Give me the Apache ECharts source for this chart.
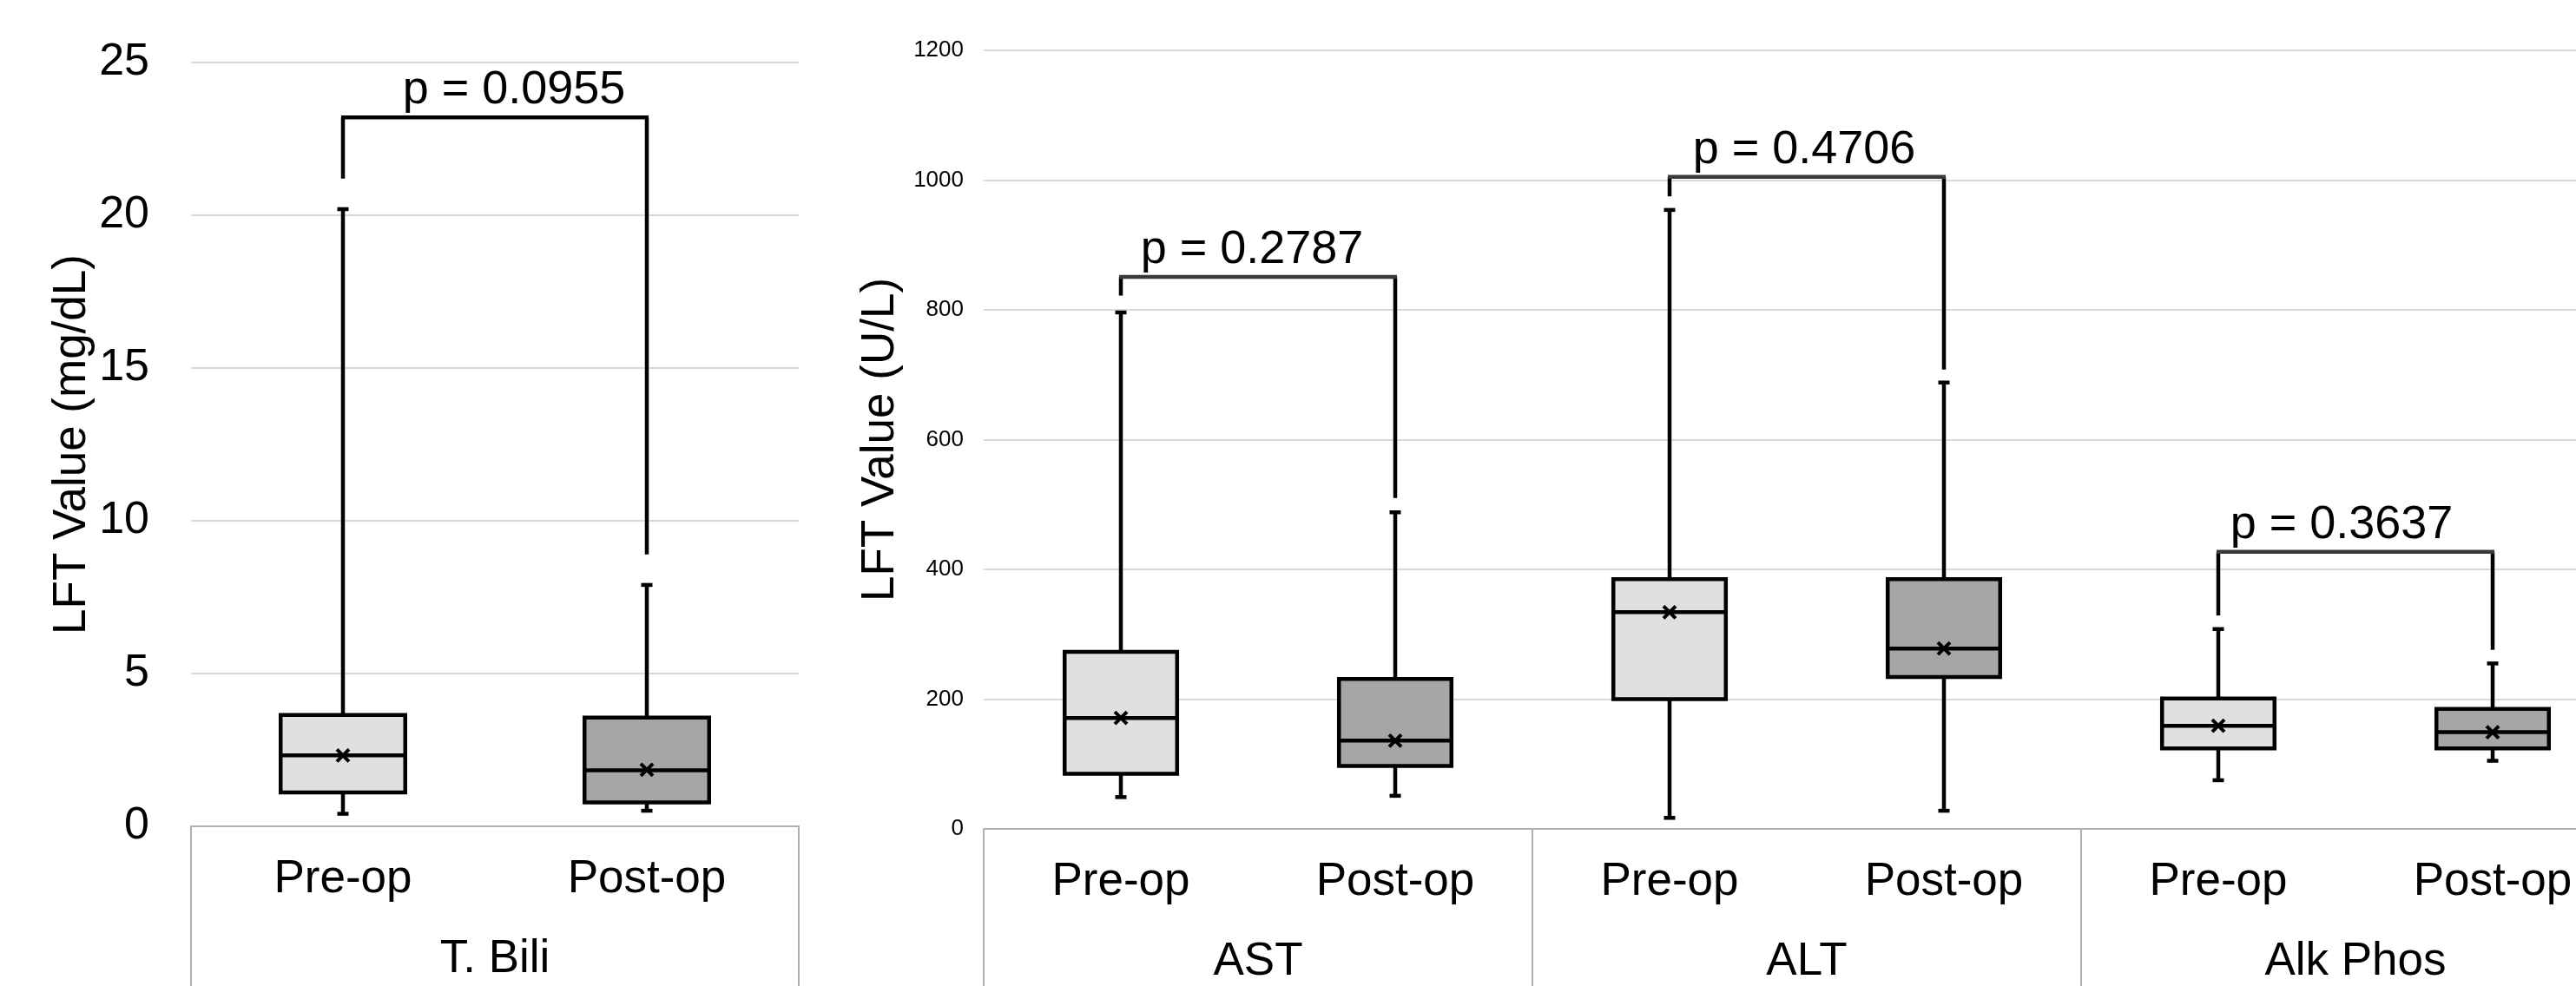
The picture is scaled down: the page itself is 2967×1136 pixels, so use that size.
<!DOCTYPE html>
<html>
<head>
<meta charset="utf-8">
<script src="https://cdn.jsdelivr.net/npm/echarts@6/dist/echarts.min.js"></script>
<style>
html, body { margin: 0; padding: 0; background: #fff; overflow: hidden; }
/* the last group runs past the right edge of the picture, as in the original */
#chart { width: 3100px; height: 1136px; }
</style>
</head>
<body>
<div id="chart"></div>
<script>
// T. Bili (mg/dL)
const biliGroups = ['T. Bili']
const stages = ['Pre-op', 'Post-op']
const biliMin = [0.41, 0.51]
const biliQ1 = [1.11, 0.78]
const biliMedian = [2.32, 1.83]
const biliQ3 = [3.64, 3.56]
const biliMax = [20.2, 7.9]
const biliMean = [2.32, 1.85]
const biliTicks = [0, 5, 10, 15, 20, 25]

// AST / ALT / Alk Phos (U/L), pre and post for each
const enzGroups = ['AST', 'ALT', 'Alk Phos']
const enzMin = [49, 51, 17, 28, 75, 105]
const enzQ1 = [85, 97, 200, 234, 124, 124]
const enzMedian = [171, 136, 334, 278, 159, 149]
const enzQ3 = [273, 231, 385, 385, 201, 185]
const enzMax = [796, 488, 954, 688, 308, 255]
const enzMean = [171, 136, 334, 278, 159, 149]
const enzTicks = [0, 200, 400, 600, 800, 1000, 1200]

// significance brackets (value of top bar and of each leg's end)
const biliP = ['p = 0.0955']
const biliBracketTop = [23.2]
const biliBracketLeft = [21.2]
const biliBracketRight = [8.9]
const enzP = ['p = 0.2787', 'p = 0.4706', 'p = 0.3637']
const enzBracketTop = [851, 1005, 427]
const enzBracketLeft = [822, 975, 329]
const enzBracketRight = [510, 708, 276]

const FONT = '"Liberation Sans", Arial, sans-serif'
const boxFill = ['#e0e0e0', '#a6a6a6']
const axisGray = '#b0b0b0'
// small horizontal nudges of the p labels (px), as placed in the original
const biliLabelDx = [22]
const enzLabelDx = [-7, -3, -16]

const chart = echarts.init(document.getElementById('chart'))

const line = (x1, y1, x2, y2, color, width) => ({
  type: 'line',
  shape: { x1, y1, x2, y2 },
  style: { stroke: color || '#000', lineWidth: width || 4.5 }
})

function renderBox(params, api) {
  const i = api.value(0)
  const x = api.coord([i, 0])[0]
  const half = api.size([1, 0])[0] * 0.205
  const cap = 6.5
  const y = (k) => api.coord([i, api.value(k)])[1]
  const yMin = y(1), yQ1 = y(2), yMed = y(3), yQ3 = y(4), yMax = y(5), yMean = y(6)
  const m = 7
  return {
    type: 'group',
    children: [
      line(x, yMax, x, yQ3),
      line(x, yQ1, x, yMin),
      line(x - cap, yMax, x + cap, yMax),
      line(x - cap, yMin, x + cap, yMin),
      {
        type: 'rect',
        shape: { x: x - half, y: yQ3, width: half * 2, height: yQ1 - yQ3 },
        style: { fill: boxFill[i % 2], stroke: '#000', lineWidth: 4.5 }
      },
      line(x - half, yMed, x + half, yMed),
      line(x - m, yMean - m, x + m, yMean + m, '#000', 4),
      line(x - m, yMean + m, x + m, yMean - m, '#000', 4)
    ]
  }
}

function bracketRenderer(labels, dx, barColor) {
  return function (params, api) {
    const xl = api.coord([api.value(0), 0])[0]
    const xr = api.coord([api.value(1), 0])[0]
    const yt = api.coord([0, api.value(2)])[1]
    const yl = api.coord([0, api.value(3)])[1]
    const yr = api.coord([0, api.value(4)])[1]
    return {
      type: 'group',
      children: [
        line(xl, yl, xl, yt),
        line(xr, yr, xr, yt),
        line(xl - 2, yt, xr + 2, yt, barColor),
        {
          type: 'text',
          x: (xl + xr) / 2 + dx[params.dataIndex],
          y: yt - 4,
          style: {
            text: labels[params.dataIndex],
            fill: '#000',
            fontSize: 54,
            fontFamily: FONT,
            align: 'center',
            verticalAlign: 'bottom'
          }
        }
      ]
    }
  }
}

const boxRows = (mn, q1, md, q3, mx, mean) => mn.map((v, i) => [i, v, q1[i], md[i], q3[i], mx[i], mean[i]])
const bracketRows = (top, left, right) => top.map((t, i) => [i * 2, i * 2 + 1, t, left[i], right[i]])

const enzCategories = []
enzGroups.forEach(g => stages.forEach(s => enzCategories.push(g + '|' + s)))

const valueAxis = (gridIndex, ticks, name, labelSize, margin, nameGap) => ({
  type: 'value',
  gridIndex,
  min: ticks[0],
  max: ticks[ticks.length - 1],
  interval: ticks[1] - ticks[0],
  name,
  nameLocation: 'middle',
  nameGap,
  nameTextStyle: { fontSize: 53, color: '#000', fontFamily: FONT },
  axisLine: { show: false },
  axisTick: { show: false },
  axisLabel: { fontSize: labelSize, color: '#000', fontFamily: FONT, margin, formatter: (v) => String(v) },
  splitLine: { lineStyle: { color: '#d9d9d9', width: 2 } }
})

const stageAxis = (gridIndex, data) => ({
  type: 'category',
  gridIndex,
  position: 'bottom',
  data,
  axisLine: { lineStyle: { color: axisGray, width: 2 } },
  axisTick: { show: false },
  axisLabel: {
    interval: 0,
    margin: 35,
    fontSize: 53,
    color: '#000',
    fontFamily: FONT,
    formatter: (v) => v.split('|').pop()
  }
})

const groupAxis = (gridIndex, data) => ({
  type: 'category',
  gridIndex,
  position: 'bottom',
  data,
  axisLine: { show: false },
  axisTick: { show: true, interval: 0, length: 190, lineStyle: { color: axisGray, width: 2 } },
  axisLabel: { interval: 0, margin: 127, fontSize: 53, color: '#000', fontFamily: FONT },
  splitLine: { show: false }
})

const option = {
  backgroundColor: '#fff',
  animation: false,
  grid: [
    { left: 220, top: 72, width: 700, height: 880 },
    { left: 1133, top: 58, width: 1896, height: 897 }
  ],
  xAxis: [
    stageAxis(0, stages),
    groupAxis(0, biliGroups),
    stageAxis(1, enzCategories),
    groupAxis(1, enzGroups)
  ],
  yAxis: [
    valueAxis(0, biliTicks, 'LFT Value (mg/dL)', 52, 48, 106),
    valueAxis(1, enzTicks, 'LFT Value (U/L)', 26, 23, 88)
  ],
  series: [
    {
      type: 'custom',
      xAxisIndex: 0,
      yAxisIndex: 0,
      renderItem: renderBox,
      encode: { x: 0, y: [1, 2, 3, 4, 5, 6] },
      data: boxRows(biliMin, biliQ1, biliMedian, biliQ3, biliMax, biliMean)
    },
    {
      type: 'custom',
      xAxisIndex: 0,
      yAxisIndex: 0,
      renderItem: bracketRenderer(biliP, biliLabelDx, '#000'),
      encode: { x: [0, 1], y: [2, 3, 4] },
      data: bracketRows(biliBracketTop, biliBracketLeft, biliBracketRight)
    },
    {
      type: 'custom',
      xAxisIndex: 2,
      yAxisIndex: 1,
      renderItem: renderBox,
      encode: { x: 0, y: [1, 2, 3, 4, 5, 6] },
      data: boxRows(enzMin, enzQ1, enzMedian, enzQ3, enzMax, enzMean)
    },
    {
      type: 'custom',
      xAxisIndex: 2,
      yAxisIndex: 1,
      renderItem: bracketRenderer(enzP, enzLabelDx, '#3a3a3a'),
      encode: { x: [0, 1], y: [2, 3, 4] },
      data: bracketRows(enzBracketTop, enzBracketLeft, enzBracketRight)
    }
  ]
}

chart.setOption(option)
window.addEventListener('resize', () => chart.resize())
</script>
</body>
</html>
